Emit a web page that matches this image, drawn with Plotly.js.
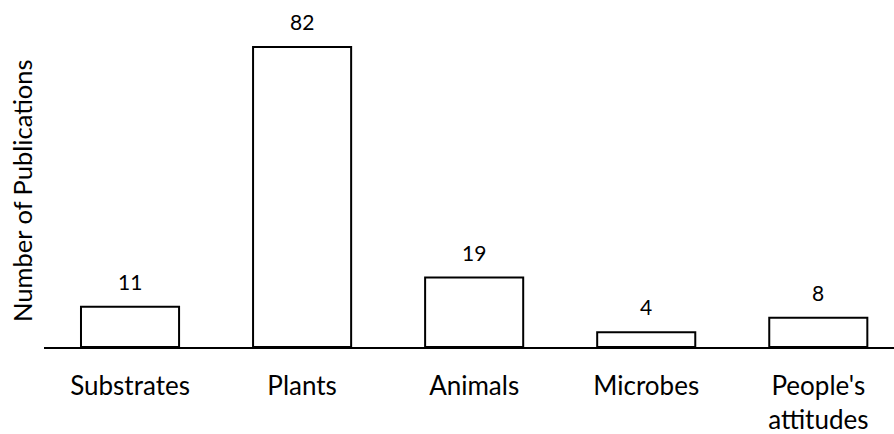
<!DOCTYPE html>
<html><head><meta charset="utf-8">
<script src="https://cdn.plot.ly/plotly-3.0.1.min.js"></script>
<style>html,body{margin:0;padding:0;background:#fff}</style>
</head><body>
<div id="chart" style="width:894px;height:434px"></div>
<script>
const categories = ["Substrates", "Plants", "Animals", "Microbes", "People's<br>attitudes"];
const publications = [11, 82, 19, 4, 8];
const yTitle = "Number of Publications";

const FONT = "Lato, 'Open Sans', sans-serif";

const trace = {
  type: "bar",
  x: categories,
  y: publications,
  marker: {color: "#ffffff", line: {color: "#000000", width: 2}},
  hoverinfo: "none"
};

const annotations = categories.map((c, i) => ({
  x: c, y: publications[i], xref: "x", yref: "y",
  text: String(publications[i]), showarrow: false,
  yanchor: "bottom", yshift: 11,
  font: {family: FONT, size: 21, color: "#000"}
}));

annotations.push({
  xref: "paper", yref: "paper", x: -22 / 850, y: 0.5,
  xanchor: "center", yanchor: "middle", textangle: -90,
  text: yTitle, showarrow: false,
  font: {family: FONT, size: 25.5, color: "#000"}
});

const layout = {
  width: 894, height: 434,
  margin: {l: 44, r: 0, t: 35, b: 87},
  paper_bgcolor: "#fff", plot_bgcolor: "#fff",
  showlegend: false,
  bargap: 0.43,
  font: {family: FONT, color: "#000"},
  xaxis: {
    type: "category",
    range: [-0.5, 4.44],
    showline: true, linecolor: "#000", linewidth: 1.5,
    ticks: "", ticklabelstandoff: 15,
    tickfont: {family: FONT, size: 26, color: "#000"},
    showgrid: false, zeroline: false, fixedrange: true
  },
  yaxis: {
    range: [0, 85.3],
    showticklabels: false, ticks: "", showgrid: false, zeroline: false, showline: false
  },
  annotations: annotations
};

Plotly.newPlot("chart", [trace], layout, {displayModeBar: false, staticPlot: true});
</script>
</body></html>
